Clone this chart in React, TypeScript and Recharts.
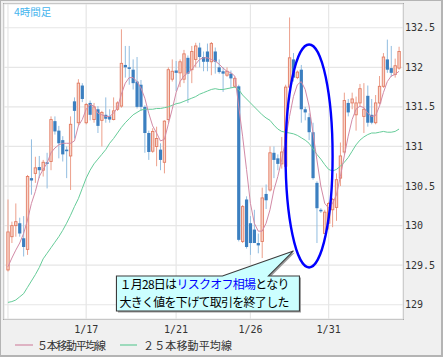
import React from 'react';
import { ComposedChart, Bar, Line, XAxis, YAxis, CartesianGrid, ReferenceDot, Legend } from 'recharts';

const opens = [
  129.44, 129.86, 130.0, 130.03, 129.84, 129.7, 130.6, 130.66, 130.74, 130.7,
  130.8, 130.81, 131.32, 131.2, 131.08, 130.96, 130.88, 131.57, 131.3, 131.77,
  131.3, 131.55, 131.34, 131.47, 131.33, 131.4, 131.38, 131.34, 131.47, 131.51,
  132.03, 132.0, 131.97, 131.82, 131.78, 131.5, 131.17, 130.94, 131.0, 130.96,
  130.8, 131.34, 131.85, 131.96, 131.93, 131.85, 132.12, 131.97, 132.1, 132.25,
  132.13, 132.2, 132.07, 132.2, 132.0, 131.95, 131.9, 131.92, 131.76, 131.76,
  129.8, 130.33, 130.03, 129.95, 129.78, 129.8, 130.4, 130.45, 130.92, 130.85,
  130.78, 130.75, 131.75, 132.1, 131.87, 131.97, 131.47, 131.37, 131.18, 130.54,
  130.2, 129.9, 130.03, 130.2, 130.23, 130.6, 130.93, 131.55, 131.55, 131.4,
  131.55, 131.38, 131.64, 131.4, 131.3, 131.55, 131.76, 132.1, 131.99, 131.91,
  131.99,
];
const closes = [
  129.92, 130.0, 130.05, 129.9, 129.73, 130.62, 130.57, 130.73, 130.7, 130.8,
  130.78, 131.34, 131.19, 131.04, 130.9, 130.94, 131.28, 131.45, 131.8, 131.6,
  131.53, 131.4, 131.5, 131.26, 131.43, 131.35, 131.34, 131.45, 131.55, 132.05,
  132.0, 131.98, 131.8, 131.5, 131.5, 131.17, 130.93, 131.19, 131.1, 130.83,
  131.32, 131.97, 131.95, 131.93, 132.07, 132.17, 131.92, 132.2, 132.27, 132.13,
  132.07, 132.07, 132.3, 132.07, 131.94, 131.92, 131.95, 131.86, 131.86, 129.82,
  130.24, 129.73, 129.78, 129.78, 129.75, 130.35, 130.32, 130.92, 130.83, 130.78,
  130.93, 131.75, 132.12, 131.87, 131.94, 131.47, 131.43, 131.18, 130.6, 130.22,
  130.18, 130.17, 130.28, 130.33, 130.58, 130.88, 131.58, 131.43, 131.6, 131.55,
  131.73, 131.47, 131.3, 131.3, 131.55, 131.76, 132.13, 131.97, 131.93, 132.02,
  132.2,
];
const highs = [
  130.33, 130.05, 130.28, 130.1, 130.12, 130.64, 131.09, 130.87, 130.88, 130.83,
  130.92, 131.38, 131.38, 131.26, 131.13, 131.0, 131.38, 131.62, 131.85, 131.8,
  131.55, 131.58, 131.55, 131.51, 131.45, 131.62, 131.47, 131.62, 131.57, 132.48,
  132.27, 132.27, 132.1, 132.13, 131.84, 131.52, 131.2, 131.23, 131.25, 131.04,
  131.33, 132.0, 132.1, 132.08, 132.1, 132.22, 132.15, 132.27, 132.31, 132.31,
  132.2, 132.3, 132.32, 132.25, 132.1, 132.0, 132.0, 131.96, 131.88, 131.78,
  130.26, 130.37, 130.12, 130.2, 129.9, 130.48, 130.52, 131.0, 131.0, 130.9,
  131.12, 131.78, 132.63, 132.18, 131.96, 132.03, 131.5, 131.42, 131.3, 130.56,
  130.22, 130.2, 130.3, 130.35, 130.66, 131.05, 131.68, 131.6, 131.68, 131.63,
  131.79, 131.8, 131.77, 131.6, 131.65, 131.89, 132.18, 132.35, 132.27, 132.11,
  132.26,
];
const lows = [
  129.42, 129.78, 129.86, 129.86, 129.61, 129.63, 130.39, 130.54, 130.6, 130.62,
  130.47, 130.7, 131.15, 130.85, 130.81, 130.6, 130.45, 131.1, 131.26, 131.56,
  131.28, 131.33, 131.3, 131.17, 131.0, 131.3, 131.3, 131.33, 131.45, 131.49,
  131.87, 131.78, 131.72, 131.48, 131.45, 130.92, 130.83, 130.92, 130.75, 130.7,
  130.66, 131.3, 131.82, 131.7, 131.75, 131.8, 131.55, 131.8, 132.0, 132.0,
  131.95, 131.95, 131.9, 131.92, 131.92, 131.69, 131.88, 131.74, 131.74, 129.8,
  129.78, 129.71, 129.63, 129.78, 129.65, 129.59, 130.21, 130.43, 130.6, 130.7,
  130.72, 130.72, 131.7, 131.82, 131.85, 131.3, 131.33, 131.08, 130.58, 129.78,
  130.16, 129.9, 129.95, 129.98, 130.06, 130.5, 130.9, 131.38, 131.47, 131.2,
  131.5, 131.17, 131.25, 131.28, 131.28, 131.53, 131.74, 131.93, 131.88, 131.87,
  131.97,
];
const ma5 = [
  129.48, 129.59, 129.69, 129.78, 129.9, 130.07, 130.28, 130.43, 130.62, 130.71,
  130.79, 130.92, 130.98, 131.02, 131.04, 131.04, 131.04, 131.07, 131.26, 131.34,
  131.47, 131.53, 131.51, 131.42, 131.4, 131.38, 131.38, 131.42, 131.49, 131.66,
  131.8, 131.87, 131.87, 131.82, 131.74, 131.61, 131.42, 131.26, 131.17, 131.07,
  131.09, 131.28, 131.47, 131.68, 131.82, 131.89, 131.93, 131.97, 132.04, 132.1,
  132.12, 132.12, 132.1, 132.08, 132.04, 131.99, 131.95, 131.93, 131.89, 131.51,
  131.13, 130.71, 130.28, 130.03, 129.93, 129.93, 130.03, 130.2, 130.45, 130.62,
  130.83, 131.09, 131.38, 131.63, 131.78, 131.82, 131.72, 131.51, 131.17, 130.83,
  130.5, 130.28, 130.22, 130.28, 130.39, 130.62, 130.88, 131.13, 131.34, 131.47,
  131.51, 131.49, 131.42, 131.38, 131.39, 131.51, 131.68, 131.82, 131.89, 131.91,
  131.95,
];
const ma25 = [
  129.03, 129.04, 129.06, 129.1, 129.14, 129.22, 129.3, 129.38, 129.47, 129.58,
  129.65, 129.72, 129.79, 129.86, 129.94, 130.03, 130.13, 130.24, 130.34, 130.47,
  130.6, 130.7, 130.78, 130.84, 130.9, 130.96, 131.04, 131.1, 131.17, 131.24,
  131.3, 131.35, 131.4, 131.43, 131.46, 131.47, 131.47, 131.47, 131.48, 131.48,
  131.49, 131.5, 131.52, 131.54, 131.55, 131.57, 131.59, 131.61, 131.63, 131.66,
  131.68, 131.7, 131.72, 131.73, 131.72, 131.72, 131.73, 131.74, 131.75, 131.72,
  131.65, 131.6, 131.55, 131.5, 131.45, 131.4, 131.36, 131.33, 131.27, 131.22,
  131.19, 131.18, 131.17, 131.16, 131.14, 131.11, 131.08, 131.04, 130.97, 130.9,
  130.84, 130.77, 130.71, 130.69, 130.71, 130.75, 130.8, 130.86, 130.94, 131.02,
  131.08, 131.12, 131.15, 131.17, 131.17, 131.18, 131.19, 131.18, 131.18, 131.19,
  131.22,
];

const tickIndex = [0, 20, 43, 62, 82];
const tickLabels = ['', '1/17', '1/21', '1/26', '1/31'];
const yTicks = [129, 129.5, 130, 130.5, 131, 131.5, 132, 132.5];
const seriesNames = ['５本移動平均線', '２５本移動平均線'];
const seriesColors = ['#d28aa6', '#66cc99'];
const titleText = '4時間足';
const noteLine1a = '１月28日は';
const noteLine1b = 'リスクオフ相場';
const noteLine1c = 'となり';
const noteLine2 = '大きく値を下げて取引を終了した';
const ellipseAt = { i: 77, v: 130.88 };
const calloutAt = { i: 73, v: 129.68 };

const data = opens.map((o, i) => ({
  i,
  open: o,
  close: closes[i],
  high: highs[i],
  low: lows[i],
  range: [lows[i], highs[i]],
  ma5: ma5[i],
  ma25: ma25[i],
}));

const Candle = (props: any) => {
  const { x, y, width, height, payload } = props;
  if (!payload || x == null) return null;
  const { open, close, high, low } = payload;
  const top = Math.min(y, y + height);
  const bottom = Math.max(y, y + height);
  const span = high - low;
  const toY = (v: number) => (span === 0 ? top : top + ((high - v) / span) * (bottom - top));
  const cx = x + width / 2;
  const up = close >= open;
  const yo = toY(open);
  const yc = toY(close);
  const bt = Math.min(yo, yc);
  const bb = Math.max(yo, yc);
  return (
    <g>
      <line x1={cx} x2={cx} y1={top} y2={bottom} stroke={up ? '#eca08c' : '#92bde0'} strokeWidth={1} />
      {up ? (
        <rect x={cx - 1.2} y={bt} width={2.4} height={Math.max(bb - bt, 1)} fill="#f9d6cb" stroke="#e27c63" strokeWidth={0.9} />
      ) : (
        <rect x={cx - 1.6} y={bt} width={3.2} height={Math.max(bb - bt, 1)} fill="#3b7fc0" />
      )}
    </g>
  );
};

const EllipseMark = (p: any) => (
  <ellipse cx={p.cx} cy={p.cy} rx={23.5} ry={111.5} fill="none" stroke="#0000ff" strokeWidth={2.4} />
);

const Callout = (p: any) => {
  const { cx, cy } = p;
  const L = cx - 177;
  const R = cx + 6;
  const T = cy + 25;
  const B = cy + 60;
  const b1 = cx - 71;
  const b2 = cx - 25;
  const d = `M${L},${T} H${b1} L${cx},${cy} L${b2},${T} H${R} V${B} H${L} Z`;
  const font = '"Noto Sans CJK JP", sans-serif';
  return (
    <g>
      <path d={d} transform="translate(1.5,1.5)" fill="#9a9a9a" />
      <path d={d} fill="#ccffff" stroke="#3c3c3c" strokeWidth={1.1} />
      <text x={L + 3} y={T + 13.5} fontSize={12} fontFamily={font} fill="#000" textLength={170} lengthAdjust="spacing">
        {noteLine1a}
        <tspan fill="#0000ff">{noteLine1b}</tspan>
        {noteLine1c}
      </text>
      <text x={L + 3} y={T + 31} fontSize={12} fontFamily={font} fill="#000" textLength={170} lengthAdjust="spacing">
        {noteLine2}
      </text>
    </g>
  );
};

const LegendContent = () => {
  const font = '"Noto Sans CJK JP", sans-serif';
  return (
    <svg width={445} height={22} style={{ display: 'block' }}>
      <line x1={15} x2={33} y1={10} y2={10} stroke={seriesColors[0]} strokeWidth={1.2} />
      <text x={37} y={14.5} fontSize={11} fontFamily={font} fill="#333" textLength={69} lengthAdjust="spacing">
        {seriesNames[0]}
      </text>
      <line x1={120} x2={137} y1={10} y2={10} stroke={seriesColors[1]} strokeWidth={1.2} />
      <text x={143} y={14.5} fontSize={11} fontFamily={font} fill="#333" textLength={89} lengthAdjust="spacing">
        {seriesNames[1]}
      </text>
    </svg>
  );
};

export default function App() {
  return (
    <div style={{ position: 'fixed', left: 0, top: 0, width: 445, height: 360, background: '#fff' }}>
      <div
        style={{
          position: 'absolute',
          left: 0,
          top: 0,
          width: 440,
          height: 354,
          background: '#f0f0f0',
          border: '1px solid #b4b4b4',
          borderRightWidth: 2,
          borderBottomWidth: 2,
        }}
      />
      <div
        style={{
          position: 'absolute',
          left: 3,
          top: 3,
          width: 399,
          height: 315,
          background: '#ffffff',
          border: '1px solid #a8a8a8',
        }}
      />
      <div style={{ position: 'absolute', left: 0, top: 0 }}>
        <ComposedChart width={445} height={360} data={data} margin={{ top: 4, right: 0, left: 4, bottom: 21 }} barCategoryGap={0}>
          <CartesianGrid stroke="#e6e6e6" strokeWidth={1.2} />
          <XAxis
            dataKey="i"
            type="category"
            ticks={tickIndex}
            interval={0}
            tickFormatter={(v: any) => {
              const k = tickIndex.indexOf(Number(v));
              return k >= 0 ? tickLabels[k] : '';
            }}
            padding={{ left: 2, right: 2 }}
            height={20}
            tickLine={false}
            tickSize={0}
            tickMargin={7}
            axisLine={false}
            tick={{ fill: '#333', fontSize: 10, fontFamily: '"DejaVu Sans Mono", monospace' }}
          />
          <YAxis
            orientation="right"
            type="number"
            domain={[128.82, 132.8]}
            ticks={yTicks}
            allowDataOverflow
            width={42}
            tickLine={false}
            tickSize={0}
            tickMargin={2}
            axisLine={false}
            tick={{ fill: '#333', fontSize: 10, fontFamily: '"DejaVu Sans Mono", monospace', textAnchor: 'start' }}
          />
          <Bar dataKey="range" shape={(p: any) => <Candle {...p} />} isAnimationActive={false} />
          <Line type="linear" dataKey="ma25" name={seriesNames[1]} stroke={seriesColors[1]} strokeWidth={1} dot={false} activeDot={false} isAnimationActive={false} />
          <Line type="linear" dataKey="ma5" name={seriesNames[0]} stroke={seriesColors[0]} strokeWidth={1} dot={false} activeDot={false} isAnimationActive={false} />
          <ReferenceDot x={ellipseAt.i} y={ellipseAt.v} r={0} ifOverflow="visible" shape={(p: any) => <EllipseMark {...p} />} />
          <ReferenceDot x={calloutAt.i} y={calloutAt.v} r={0} ifOverflow="visible" shape={(p: any) => <Callout {...p} />} />
          <Legend
            layout="horizontal"
            verticalAlign="middle"
            align="center"
            wrapperStyle={{ left: 0, top: 335, width: 445, height: 22 }}
            content={() => <LegendContent />}
          />
        </ComposedChart>
      </div>
      <div
        style={{
          position: 'absolute',
          left: 14,
          top: 5,
          fontSize: 10.5,
          color: '#45b4ee',
          fontFamily: '"Noto Sans CJK JP", sans-serif',
          lineHeight: '14px',
        }}
      >
        {titleText}
      </div>
    </div>
  );
}
